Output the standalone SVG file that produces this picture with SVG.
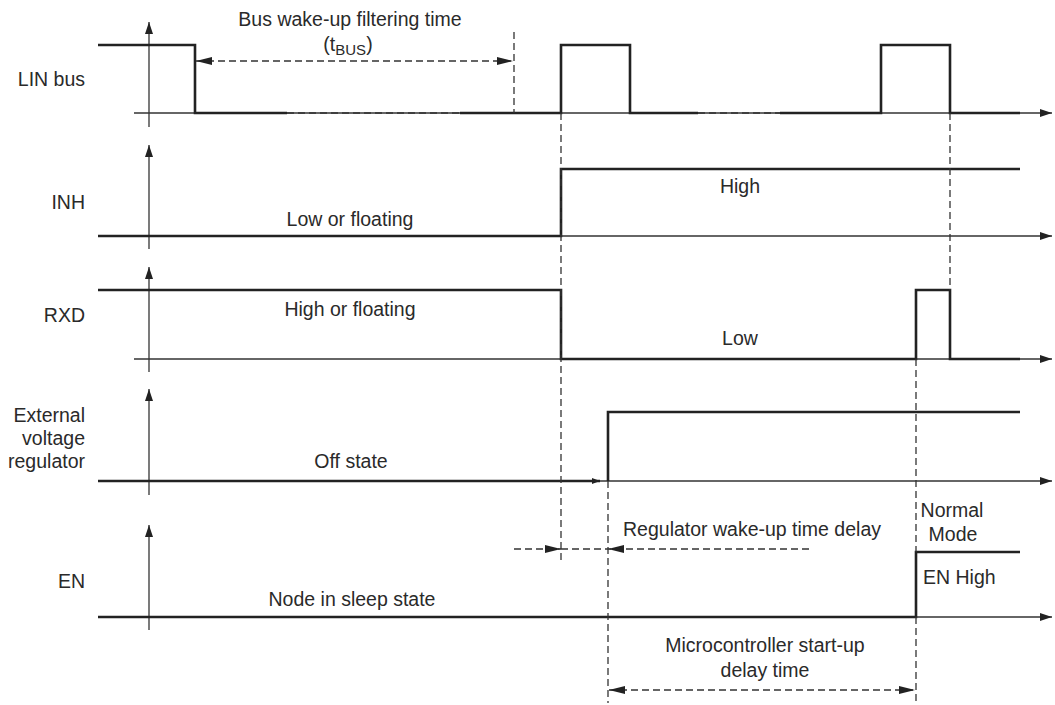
<svg xmlns="http://www.w3.org/2000/svg" width="1055" height="705" viewBox="0 0 1055 705">
<defs>
<marker id="ax" viewBox="0 0 12 8" refX="12" refY="4" markerWidth="12" markerHeight="8" markerUnits="userSpaceOnUse" orient="auto"><path d="M0,0 L12,4 L0,8 Z" fill="#222"/></marker>
<marker id="dim" viewBox="0 0 16 8" refX="16" refY="4" markerWidth="16" markerHeight="8" markerUnits="userSpaceOnUse" orient="auto-start-reverse"><path d="M0,0 L16,4 L0,8 Z" fill="#222"/></marker>
<marker id="sm" viewBox="0 0 8 6" refX="8" refY="3" markerWidth="8" markerHeight="6" markerUnits="userSpaceOnUse" orient="auto"><path d="M0,0 L8,3 L0,6 Z" fill="#222"/></marker>
</defs>
<style>
text{font-family:"Liberation Sans",Arial,sans-serif;font-size:19.5px;fill:#2a2a2a}
.lbl{text-anchor:end}
.c{text-anchor:middle}
.sig{fill:none;stroke:#222;stroke-width:2.6;stroke-linejoin:miter}
.axis{fill:none;stroke:#333;stroke-width:1.3}
.dash{fill:none;stroke:#333;stroke-width:1.3;stroke-dasharray:7,4}
</style>
<rect width="1055" height="705" fill="#fff"/>

<g id="axes">
<line class="axis" x1="149" y1="127" x2="149" y2="22" marker-end="url(#ax)"/>
<line class="axis" x1="134" y1="113" x2="1052" y2="113" marker-end="url(#ax)"/>
<line class="axis" x1="149" y1="249" x2="149" y2="145" marker-end="url(#ax)"/>
<line class="axis" x1="134" y1="236" x2="1052" y2="236" marker-end="url(#ax)"/>
<line class="axis" x1="149" y1="372" x2="149" y2="267" marker-end="url(#ax)"/>
<line class="axis" x1="134" y1="359" x2="1052" y2="359" marker-end="url(#ax)"/>
<line class="axis" x1="149" y1="495" x2="149" y2="389" marker-end="url(#ax)"/>
<line class="axis" x1="134" y1="481" x2="1052" y2="481" marker-end="url(#ax)"/>
<line class="axis" x1="149" y1="630" x2="149" y2="525" marker-end="url(#ax)"/>
<line class="axis" x1="134" y1="617" x2="1052" y2="617" marker-end="url(#ax)"/>
</g>

<g id="lin-bus">
<text class="lbl" x="85" y="86">LIN bus</text>
<polyline class="sig" points="98,45 195,45 195,113 287,113"/>
<line class="dash" x1="287" y1="113" x2="460" y2="113"/>
<polyline class="sig" points="460,113 561,113 561,45 630,45 630,113 698,113"/>
<line class="dash" x1="698" y1="113" x2="780" y2="113"/>
<polyline class="sig" points="780,113 881,113 881,45 950,45 950,113 1020,113"/>
</g>

<g id="inh">
<text class="lbl" x="85" y="209">INH</text>
<polyline class="sig" points="98,236 561,236 561,169 1020,169"/>
<text class="c" x="350" y="226">Low or floating</text>
<text class="c" x="740" y="193">High</text>
</g>

<g id="rxd">
<text class="lbl" x="85" y="322">RXD</text>
<polyline class="sig" points="98,290 561,290 561,359 916,359 916,290 950,290 950,359 1020,359"/>
<text class="c" x="350" y="316">High or floating</text>
<text class="c" x="740" y="345">Low</text>
</g>

<g id="regulator">
<text class="lbl" x="85" y="422">External</text>
<text class="lbl" x="85" y="445">voltage</text>
<text class="lbl" x="85" y="468">regulator</text>
<line class="sig" x1="98" y1="481" x2="600" y2="481" marker-end="url(#sm)"/>
<polyline class="sig" points="608,481 608,412 1020,412"/>
<text class="c" x="351" y="468">Off state</text>
</g>

<g id="en">
<text class="lbl" x="85" y="588">EN</text>
<polyline class="sig" points="98,617 916,617 916,552 1020,552"/>
<text class="c" x="352" y="606">Node in sleep state</text>
<text class="c" x="952" y="517">Normal</text>
<text class="c" x="953" y="541">Mode</text>
<text x="923" y="584">EN High</text>
</g>

<g id="connectors">
<line class="dash" x1="514" y1="32" x2="514" y2="113"/>
<line class="dash" x1="561" y1="113" x2="561" y2="563"/>
<line class="dash" x1="608" y1="481" x2="608" y2="703"/>
<line class="dash" x1="916" y1="359" x2="916" y2="552"/>
<line class="dash" x1="916" y1="617" x2="916" y2="703"/>
<line class="dash" x1="950" y1="113" x2="950" y2="290"/>
<line class="dash" x1="196" y1="61" x2="513" y2="61" marker-start="url(#dim)" marker-end="url(#dim)"/>
<line class="dash" x1="514" y1="549" x2="561" y2="549" marker-end="url(#dim)"/>
<line class="dash" x1="561" y1="549" x2="608" y2="549"/>
<line class="dash" x1="809" y1="549" x2="608" y2="549" marker-end="url(#dim)"/>
<line class="dash" x1="609" y1="690" x2="915" y2="690" marker-start="url(#dim)" marker-end="url(#dim)"/>
</g>

<g id="annotations">
<text class="c" x="350" y="26">Bus wake-up filtering time</text>
<text class="c" x="348" y="51">(t<tspan font-size="15" dy="4">BUS</tspan><tspan dy="-4">)</tspan></text>
<text class="c" x="752" y="536">Regulator wake-up time delay</text>
<text class="c" x="765" y="652">Microcontroller start-up</text>
<text class="c" x="765" y="677">delay time</text>
</g>
</svg>
